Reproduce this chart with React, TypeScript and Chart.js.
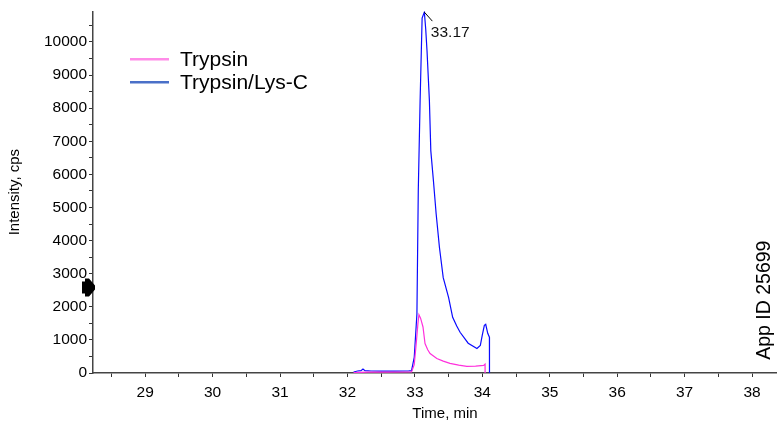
import React, { useEffect, useRef } from "react";
import { Chart, registerables } from "chart.js";

Chart.register(...registerables);

// ---- data ----
const seriesNames = ["Trypsin", "Trypsin/Lys-C"];

const trypsinTimes = [
  32.09, 32.3, 32.6, 32.95, 32.99, 33.02, 33.045, 33.06, 33.085, 33.12, 33.15,
  33.19, 33.225, 33.325, 33.42, 33.52, 33.65, 33.77, 33.9, 34.02, 34.04, 34.041,
];
const trypsinValues = [
  10, 25, 25, 35, 250, 900, 1500, 1760, 1650, 1390, 890,
  700, 590, 440, 360, 290, 240, 200, 210, 230, 270, 0,
];

const lysCTimes = [
  32.09, 32.15, 32.2, 32.23, 32.26, 32.35, 32.5, 32.7, 32.9, 32.95, 32.99,
  33.03, 33.05, 33.077, 33.107, 33.14, 33.16, 33.18, 33.215, 33.236, 33.275,
  33.315, 33.364, 33.42, 33.5, 33.56, 33.62, 33.67, 33.79, 33.92, 33.97, 34.0,
  34.03, 34.05, 34.08, 34.105, 34.106,
];
const lysCValues = [
  30, 60, 70, 120, 70, 60, 55, 55, 60, 70, 470,
  1790, 5500, 8210, 10720, 10900, 10400, 9720, 8220, 6710, 5800,
  4810, 3790, 2880, 2280, 1680, 1420, 1230, 900, 740, 830, 1150,
  1440, 1470, 1200, 1080, 0,
];

const xMajorTicks = [29, 30, 31, 32, 33, 34, 35, 36, 37, 38];
const xMinorTicks = [28.5, 29.5, 30.5, 31.5, 32.5, 33.5, 34.5, 35.5, 36.5, 37.5];
const yMajorTicks = [0, 1000, 2000, 3000, 4000, 5000, 6000, 7000, 8000, 9000, 10000];
const yMinorTicks = [500, 1500, 2500, 3500, 4500, 5500, 6500, 7500, 8500, 9500, 10500];

const xTitle = "Time, min";
const yTitle = "Intensity, cps";
const peakTime = 33.14;
const peakValue = 10900;
const peakLabel = "33.17";
const markerValue = 2580;
const appIdText = "App ID 25699";

const FONT = '"Liberation Sans", Arial, Helvetica, sans-serif';

const overlayPlugin = {
  id: "overlay",
  afterDraw(chart: any) {
    const ctx = chart.ctx as CanvasRenderingContext2D;
    const xs = chart.scales.x;
    const ys = chart.scales.y;
    const area = chart.chartArea;
    ctx.save();

    // legend
    const legendColors = ["#ff8ce8", "#4a70c8"];
    const lx = area.left + 37;
    const ly0 = area.top + 48;
    const gap = 23;
    seriesNames.forEach((name, i) => {
      const y = ly0 + i * gap;
      ctx.strokeStyle = legendColors[i];
      ctx.lineWidth = 2.5;
      ctx.beginPath();
      ctx.moveTo(lx, y);
      ctx.lineTo(lx + 39, y);
      ctx.stroke();
      ctx.fillStyle = "#000";
      ctx.font = `21px ${FONT}`;
      ctx.textAlign = "left";
      ctx.textBaseline = "middle";
      ctx.fillText(name, lx + 50, y + 1);
    });

    // x axis title
    ctx.fillStyle = "#000";
    ctx.font = `15px ${FONT}`;
    ctx.textAlign = "center";
    ctx.textBaseline = "middle";
    ctx.fillText(xTitle, (area.left + area.right) / 2 + 10, area.bottom + 41);

    // peak annotation
    const px = xs.getPixelForValue(peakTime);
    const py = ys.getPixelForValue(peakValue);
    ctx.strokeStyle = "#000";
    ctx.lineWidth = 1;
    ctx.beginPath();
    ctx.moveTo(px, py);
    ctx.lineTo(px + 8, py + 9);
    ctx.stroke();
    ctx.fillStyle = "#111";
    ctx.font = `15.5px ${FONT}`;
    ctx.textAlign = "left";
    ctx.textBaseline = "middle";
    ctx.fillText(peakLabel, px + 6.5, py + 21);

    // marker on the y axis
    const my = ys.getPixelForValue(markerValue);
    const mx = area.left;
    ctx.fillStyle = "#000";
    ctx.beginPath();
    ctx.moveTo(mx - 11, my - 6);
    ctx.lineTo(mx - 8, my - 6);
    ctx.lineTo(mx - 8, my - 9);
    ctx.lineTo(mx - 4, my - 9);
    ctx.lineTo(mx + 2, my - 2);
    ctx.lineTo(mx + 2, my + 2);
    ctx.lineTo(mx - 4, my + 9);
    ctx.lineTo(mx - 8, my + 9);
    ctx.lineTo(mx - 8, my + 6);
    ctx.lineTo(mx - 11, my + 6);
    ctx.closePath();
    ctx.fill();

    // App ID
    ctx.save();
    ctx.translate(area.right - 12, ys.getPixelForValue(2200));
    ctx.rotate(-Math.PI / 2);
    ctx.fillStyle = "#000";
    ctx.font = `19.5px ${FONT}`;
    ctx.textAlign = "center";
    ctx.textBaseline = "middle";
    ctx.fillText(appIdText, 0, 0);
    ctx.restore();

    ctx.restore();
  },
};

export default function App() {
  const ref = useRef<HTMLCanvasElement | null>(null);

  useEffect(() => {
    if (!ref.current) return;
    const chart = new Chart(ref.current, {
      type: "line",
      data: {
        datasets: [
          {
            label: seriesNames[0],
            data: trypsinTimes.map((t, i) => ({ x: t, y: trypsinValues[i] })),
            borderColor: "#ff30dc",
            borderWidth: 1.2,
            pointRadius: 0,
            tension: 0,
            fill: false,
          },
          {
            label: seriesNames[1],
            data: lysCTimes.map((t, i) => ({ x: t, y: lysCValues[i] })),
            borderColor: "#0a0aff",
            borderWidth: 1.2,
            pointRadius: 0,
            tension: 0,
            fill: false,
          },
        ],
      },
      options: {
        animation: false,
        responsive: false,
        maintainAspectRatio: false,
        layout: { padding: { top: 10, right: 0, left: 0, bottom: 0 } },
        plugins: { legend: { display: false }, tooltip: { enabled: false } },
        scales: {
          x: {
            type: "linear",
            min: 28.226,
            max: 38.37,
            afterBuildTicks: (s: any) => {
              s.ticks = [...xMajorTicks, ...xMinorTicks]
                .sort((a, b) => a - b)
                .map((v) => ({ value: v }));
            },
            afterFit: (s: any) => {
              s.height = 50;
            },
            ticks: {
              autoSkip: false,
              maxRotation: 0,
              padding: 6,
              color: "#000",
              font: { family: FONT, size: 15.5 },
              callback: (v: any) => (xMajorTicks.includes(Number(v)) ? String(v) : ""),
            },
            grid: {
              drawOnChartArea: false,
              drawTicks: true,
              tickLength: 4,
              tickColor: "#333",
            },
            border: { color: "#444", width: 1.5 },
            title: { display: false, text: xTitle },
          },
          y: {
            type: "linear",
            min: 0,
            max: 10925,
            afterBuildTicks: (s: any) => {
              s.ticks = [...yMajorTicks, ...yMinorTicks]
                .sort((a, b) => a - b)
                .map((v) => ({ value: v }));
            },
            afterFit: (s: any) => {
              s.width = 93;
            },
            ticks: {
              autoSkip: false,
              padding: 2,
              color: "#000",
              font: { family: FONT, size: 15.5 },
              callback: (v: any) => (yMajorTicks.includes(Number(v)) ? String(v) : ""),
            },
            grid: {
              drawOnChartArea: false,
              drawTicks: true,
              tickLength: 4,
              tickColor: "#333",
            },
            border: { color: "#444", width: 1.5 },
            title: {
              display: true,
              text: yTitle,
              color: "#000",
              font: { family: FONT, size: 15 },
              padding: { top: 6, bottom: 0 },
            },
          },
        },
      },
      plugins: [overlayPlugin],
    });
    return () => chart.destroy();
  }, []);

  return (
    <div style={{ position: "fixed", left: 0, top: 0, width: 777, height: 423, background: "#fff" }}>
      <canvas ref={ref} width={777} height={423} style={{ width: 777, height: 423 }} />
    </div>
  );
}
